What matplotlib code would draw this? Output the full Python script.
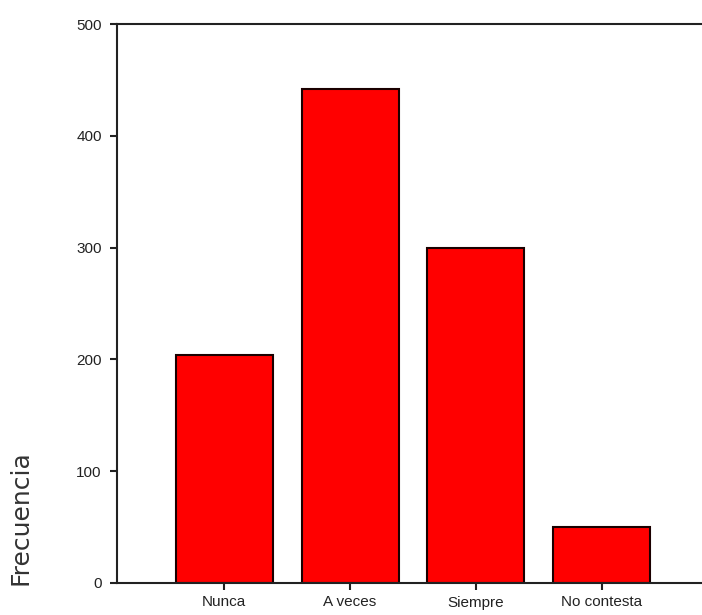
import matplotlib
matplotlib.use("Agg")
import matplotlib.pyplot as plt

categories = ["Nunca", "A veces", "Siempre", "No contesta"]
frecuencia = [204, 442, 300, 50]
yticks = [0, 100, 200, 300, 400, 500]

fig = plt.figure(figsize=(7.02, 6.15), dpi=100)
ax = fig.add_axes([117 / 702, 32 / 615, 1.0 - 117 / 702 + 0.01, 559 / 615])

x = list(range(len(categories)))
ax.bar(x, frecuencia, width=0.77, color="#ff0000", edgecolor="#1a0000", linewidth=1.5, zorder=2)

ax.set_xlim(-0.85, 3.85)
ax.set_ylim(0, 500)
ax.set_yticks(yticks)
ax.set_yticklabels([str(v) for v in yticks])
ax.set_xticks(x)
ax.set_xticklabels(categories)

for s in ("left", "bottom", "top"):
    ax.spines[s].set_linewidth(1.5)
    ax.spines[s].set_color("#222222")
ax.spines["right"].set_visible(False)

ax.tick_params(axis="both", direction="out", length=5, width=1.5, color="#222222",
               labelsize=11, labelcolor="#222222")
ax.tick_params(axis="y", pad=6)
ax.tick_params(axis="x", pad=4)
for lab in ax.get_xticklabels() + ax.get_yticklabels():
    lab.set_family("Liberation Sans")

fig.text(21 / 702, 1 - 518 / 615, "Frecuencia", rotation=90, ha="center", va="center",
         fontsize=18, family="DejaVu Sans", color="#333333")

fig.savefig("out.png", dpi=100)
